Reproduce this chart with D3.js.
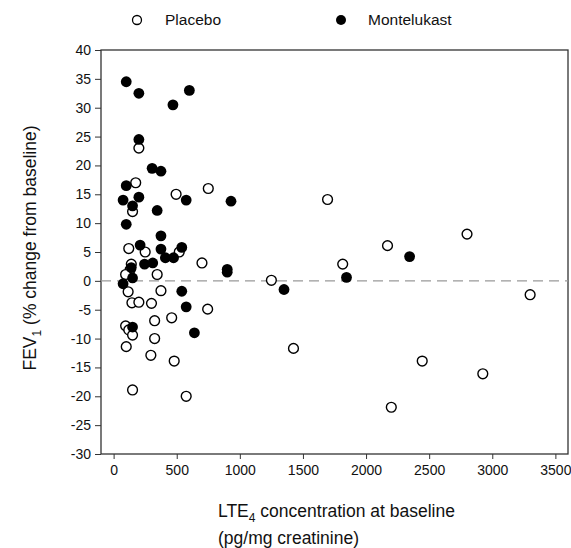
<!DOCTYPE html>
<html>
<head>
<meta charset="utf-8">
<script src="https://cdn.jsdelivr.net/npm/d3@7"></script>
<style>
  body { margin: 0; background: #fff; }
  text { font-family: "Liberation Sans", Arial, sans-serif; fill: #111; }
</style>
</head>
<body>
<div id="viz"></div>
<script>
// LTE4 (pg/mg creatinine) vs FEV1 % change
const placeboX = [200, 175, 750, 495, 150, 120, 250, 520, 140, 700, 130, 95, 345, 115, 375, 145, 200, 300, 745, 325,
                  460, 95, 120, 150, 325, 100, 295, 480, 150, 575, 1695, 2170, 2800, 1815, 1250, 3300, 1425, 2445, 2925, 2200]
const placeboY = [23, 17, 16, 15, 12, 5.6, 5, 5, 2.9, 3.1, 1.9, 1.1, 1.1, -1.9, -1.7, -3.8, -3.7, -3.9, -4.9, -6.9,
                  -6.4, -7.8, -8.5, -9.4, -10, -11.4, -12.9, -13.9, -18.9, -20, 14.1, 6.1, 8.1, 2.9, 0.1, -2.4, -11.7, -13.9, -16.1, -21.9]

const montelukastX = [100, 200, 470, 600, 200, 305, 375, 100, 75, 200, 150, 345, 575, 930, 100, 375, 210, 375, 540, 410,
                      475, 245, 310, 140, 150, 900, 900, 75, 540, 575, 150, 640, 1350, 1845, 2345]
const montelukastY = [34.5, 32.5, 30.5, 33, 24.5, 19.5, 19, 16.5, 14, 14.5, 13, 12.2, 14, 13.8, 9.8, 7.8, 6.2, 5.5, 5.8, 4,
                      4, 2.9, 3.1, 2.3, 0.5, 2, 1.5, -0.5, -1.8, -4.5, -8, -9, -1.5, 0.6, 4.2]

const xTicks = [0, 500, 1000, 1500, 2000, 2500, 3000, 3500]
const yTicks = [-30, -25, -20, -15, -10, -5, 0, 5, 10, 15, 20, 25, 30, 35, 40]

const width = 571
const height = 548
const margin = {top: 50, right: 3, bottom: 94, left: 101}

const svg = d3.select("#viz").append("svg")
    .attr("width", width)
    .attr("height", height)

const xScale = d3.scaleLinear()
    .domain([-100, 3600])
    .range([margin.left, width - margin.right])

const yScale = d3.scaleLinear()
    .domain([-30, 40])
    .range([height - margin.bottom, margin.top])

// frame
svg.append("rect")
    .attr("x", margin.left)
    .attr("y", margin.top)
    .attr("width", width - margin.left - margin.right)
    .attr("height", height - margin.top - margin.bottom)
    .attr("fill", "none")
    .attr("stroke", "#333")
    .attr("stroke-width", 1.3)

// zero reference line
svg.append("line")
    .attr("x1", margin.left)
    .attr("x2", width - margin.right)
    .attr("y1", yScale(0))
    .attr("y2", yScale(0))
    .attr("stroke", "#999")
    .attr("stroke-width", 1.3)
    .attr("stroke-dasharray", "10,6")

const xAxis = d3.axisBottom(xScale).tickValues(xTicks).tickFormat(d => String(d)).tickSize(5).tickPadding(6)
svg.append("g")
    .attr("transform", `translate(0,${height - margin.bottom})`)
    .call(xAxis)
    .call(g => g.select(".domain").remove())
    .call(g => g.selectAll("line").attr("stroke", "#333"))
    .call(g => g.selectAll("text").style("font-size", "14px").attr("fill", "#111"))

const yAxis = d3.axisLeft(yScale).tickValues(yTicks).tickFormat(d => String(d)).tickSize(6).tickPadding(4)
svg.append("g")
    .attr("transform", `translate(${margin.left},0)`)
    .call(yAxis)
    .call(g => g.select(".domain").remove())
    .call(g => g.selectAll("line").attr("stroke", "#333"))
    .call(g => g.selectAll("text").style("font-size", "14px").attr("fill", "#111"))

const placebo = placeboX.map((x, i) => ({x: x, y: placeboY[i]}))
const montelukast = montelukastX.map((x, i) => ({x: x, y: montelukastY[i]}))

svg.append("g").selectAll("circle")
    .data(placebo)
    .join("circle")
    .attr("cx", d => xScale(d.x))
    .attr("cy", d => yScale(d.y))
    .attr("r", 4.9)
    .attr("fill", "#fff")
    .attr("stroke", "#000")
    .attr("stroke-width", 1.4)

svg.append("g").selectAll("circle")
    .data(montelukast)
    .join("circle")
    .attr("cx", d => xScale(d.x))
    .attr("cy", d => yScale(d.y))
    .attr("r", 5.4)
    .attr("fill", "#000")

// legend
svg.append("circle").attr("cx", 137).attr("cy", 20).attr("r", 4.5)
    .attr("fill", "#fff").attr("stroke", "#000").attr("stroke-width", 1.3)
svg.append("text").attr("x", 165).attr("y", 25).style("font-size", "15.5px").text("Placebo")
svg.append("circle").attr("cx", 341).attr("cy", 20).attr("r", 5)
    .attr("fill", "#000")
svg.append("text").attr("x", 368).attr("y", 25).style("font-size", "15.5px").text("Montelukast")

// axis titles
const xTitle = svg.append("text").attr("x", 218).attr("y", 517).style("font-size", "17.5px")
xTitle.append("tspan").text("LTE")
xTitle.append("tspan").attr("dy", 5).style("font-size", "12px").text("4")
xTitle.append("tspan").attr("dy", -5).text(" concentration at baseline")
svg.append("text").attr("x", 218).attr("y", 544).style("font-size", "17.5px").text("(pg/mg creatinine)")

const yTitle = svg.append("text")
    .attr("transform", `translate(36,248) rotate(-90)`)
    .attr("text-anchor", "middle")
    .style("font-size", "17.5px")
yTitle.append("tspan").text("FEV")
yTitle.append("tspan").attr("dy", 5).style("font-size", "12px").text("1")
yTitle.append("tspan").attr("dy", -5).text(" (% change from baseline)")
</script>
</body>
</html>
